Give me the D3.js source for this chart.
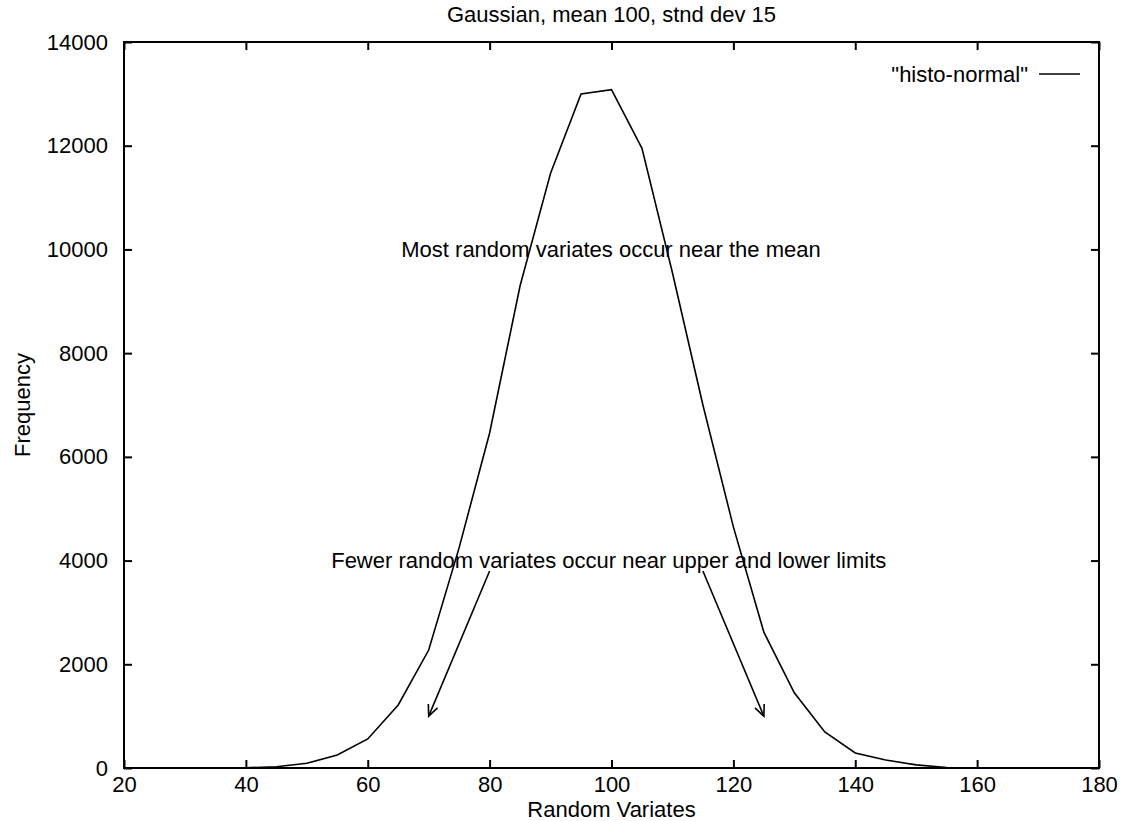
<!DOCTYPE html>
<html>
<head>
<meta charset="utf-8">
<script src="https://cdn.jsdelivr.net/npm/d3@7"></script>
<style>
  body { margin: 0; background: #fff; }
  svg text { font-family: "Liberation Sans", Arial, Helvetica, sans-serif; fill: #000; }
</style>
</head>
<body>
<div id="chart"></div>
<script>
// histogram bins (random variate) and their counts
var variates = [20, 25, 30, 35, 40, 45, 50, 55, 60, 65, 70, 75, 80, 85, 90, 95, 100,
                105, 110, 115, 120, 125, 130, 135, 140, 145, 150, 155, 160, 165, 170, 175, 180];
var counts = [0, 0, 0, 0, 5, 25, 90, 250, 560, 1215, 2275, 4250, 6460, 9300, 11470, 13000, 13080,
              11950, 9550, 7000, 4650, 2620, 1450, 695, 290, 155, 60, 10, 0, 0, 0, 0, 0];

var xTicks = [20, 40, 60, 80, 100, 120, 140, 160, 180];
var yTicks = [0, 2000, 4000, 6000, 8000, 10000, 12000, 14000];

// annotations, in data units
var notes = [
  { text: "Most random variates occur near the mean", x: 65.5, y: 10000 },
  { text: "Fewer random variates occur near upper and lower limits", x: 54, y: 4000 }
];
var arrows = [
  { x1: 80, y1: 3800, x2: 70, y2: 1000 },
  { x1: 115, y1: 3800, x2: 125, y2: 1000 }
];

var W = 1121, H = 821,
    margin = { top: 42, right: 22, bottom: 53, left: 124 },
    width = W - margin.left - margin.right,
    height = H - margin.top - margin.bottom,
    tick = 8,
    fs = "22px";

var svg = d3.select("#chart").append("svg")
    .attr("width", W)
    .attr("height", H);

var g = svg.append("g")
    .attr("transform", "translate(" + margin.left + "," + margin.top + ")");

var x = d3.scaleLinear().domain([20, 180]).range([0, width]);
var y = d3.scaleLinear().domain([0, 14000]).range([height, 0]);

// axes on all four sides, ticks pointing inwards
g.append("g")
    .attr("transform", "translate(0," + height + ")")
    .call(d3.axisBottom(x).tickValues(xTicks).tickSize(-tick).tickSizeOuter(0).tickPadding(8).tickFormat(d3.format("d")))
    .call(function(a) { a.select(".domain").remove(); });
g.append("g")
    .call(d3.axisTop(x).tickValues(xTicks).tickSize(-tick).tickSizeOuter(0).tickFormat(""))
    .call(function(a) { a.select(".domain").remove(); });
g.append("g")
    .call(d3.axisLeft(y).tickValues(yTicks).tickSize(-tick).tickSizeOuter(0).tickPadding(16).tickFormat(d3.format("d")))
    .call(function(a) { a.select(".domain").remove(); });
g.append("g")
    .attr("transform", "translate(" + width + ",0)")
    .call(d3.axisRight(y).tickValues(yTicks).tickSize(-tick).tickSizeOuter(0).tickFormat(""))
    .call(function(a) { a.select(".domain").remove(); });
g.selectAll(".tick line").attr("stroke", "#000").attr("stroke-width", 2);
g.selectAll(".tick text")
    .attr("fill", "#000")
    .attr("font-size", fs)
    .attr("font-family", "Liberation Sans, Arial, sans-serif");

g.append("rect")
    .attr("width", width)
    .attr("height", height)
    .attr("fill", "none")
    .attr("stroke", "#000")
    .attr("stroke-width", 2);

// the curve
var line = d3.line()
    .x(function(d, i) { return x(variates[i]); })
    .y(function(d) { return y(d); });

g.append("path")
    .datum(counts)
    .attr("d", line)
    .attr("fill", "none")
    .attr("stroke", "#000")
    .attr("stroke-width", 1.6);

// open arrowheads
svg.append("defs").append("marker")
    .attr("id", "arrow")
    .attr("viewBox", "-12 -7 14 14")
    .attr("refX", 0)
    .attr("refY", 0)
    .attr("markerWidth", 14)
    .attr("markerHeight", 14)
    .attr("markerUnits", "userSpaceOnUse")
    .attr("orient", "auto")
  .append("path")
    .attr("d", "M-11,-5 L0,0 L-11,5")
    .attr("fill", "none")
    .attr("stroke", "#000")
    .attr("stroke-width", 1.6);

g.selectAll(".arrow")
    .data(arrows)
    .enter().append("line")
    .attr("class", "arrow")
    .attr("x1", function(d) { return x(d.x1); })
    .attr("y1", function(d) { return y(d.y1); })
    .attr("x2", function(d) { return x(d.x2); })
    .attr("y2", function(d) { return y(d.y2); })
    .attr("stroke", "#000")
    .attr("stroke-width", 1.6)
    .attr("marker-end", "url(#arrow)");

g.selectAll(".note")
    .data(notes)
    .enter().append("text")
    .attr("class", "note")
    .attr("x", function(d) { return x(d.x); })
    .attr("y", function(d) { return y(d.y); })
    .attr("dy", "0.35em")
    .attr("font-size", fs)
    .text(function(d) { return d.text; });

// key
g.append("text")
    .attr("x", width - 71)
    .attr("y", 32)
    .attr("dy", "0.35em")
    .attr("text-anchor", "end")
    .attr("font-size", fs)
    .text('"histo-normal"');
g.append("line")
    .attr("x1", width - 60)
    .attr("x2", width - 19)
    .attr("y1", 32)
    .attr("y2", 32)
    .attr("stroke", "#000")
    .attr("stroke-width", 1.6);

// titles
svg.append("text")
    .attr("x", margin.left + width / 2)
    .attr("y", 14)
    .attr("dy", "0.35em")
    .attr("text-anchor", "middle")
    .attr("font-size", fs)
    .text("Gaussian, mean 100, stnd dev 15");

svg.append("text")
    .attr("x", margin.left + width / 2)
    .attr("y", 816.5)
    .attr("text-anchor", "middle")
    .attr("font-size", fs)
    .text("Random Variates");

svg.append("text")
    .attr("transform", "translate(22," + (margin.top + height / 2) + ") rotate(-90)")
    .attr("dy", "0.35em")
    .attr("text-anchor", "middle")
    .attr("font-size", fs)
    .text("Frequency");
</script>
</body>
</html>
